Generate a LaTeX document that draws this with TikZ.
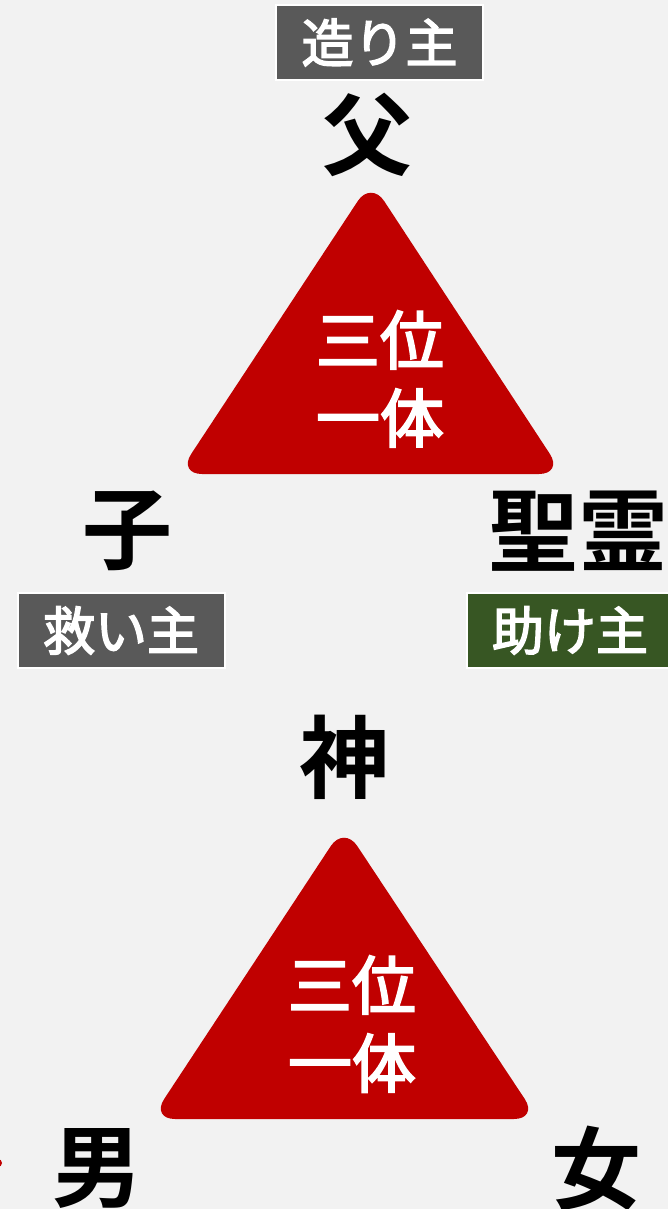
\documentclass[tikz,border=0pt]{standalone}
\usepackage{fontspec}
\newfontfamily\cjk{Noto Sans CJK JP}[BoldFont={Noto Sans CJK JP Bold}]
\newfontfamily\cjkmed{Noto Sans CJK JP}[FakeBold=3]
\definecolor{bg}{HTML}{F2F2F2}
\definecolor{tri}{HTML}{C00000}
\definecolor{greybox}{HTML}{595959}
\definecolor{greenbox}{HTML}{375623}
\tikzset{
  bigchar/.style={inner sep=0pt, font=\cjk\bfseries\fontsize{90}{90}\selectfont, text=black},
  tritext/.style={inner sep=0pt, align=center, text=white, font=\cjkmed\fontsize{64}{78}\selectfont},
  role/.style={inner sep=0pt, minimum width=207pt, minimum height=75pt, draw=white, line width=2pt, text=white, font=\cjkmed\fontsize{52}{52}\selectfont},
  trishape/.style={fill=tri, rounded corners=24pt}
}
\begin{document}
\begin{tikzpicture}[x=1pt,y=-1pt]
\useasboundingbox (0,0) rectangle (668,1209);
\fill[bg] (0,0) rectangle (668,1209);
% top triangle
\fill[trishape] (371,181) -- (563,474) -- (178,474) -- cycle;
\node[tritext] (t1) at (380,379) {三位\\一体};
% bottom triangle
\fill[trishape] (344,826) -- (538,1119) -- (151,1119) -- cycle;
\node[tritext] (t2) at (352,1024) {三位\\一体};
% labels
\node[role, fill=greybox] (maker) at (379.5,42.5) {造り主};
\node[bigchar] (father) at (367,135) {父};
\node[bigchar] (son) at (127,531) {子};
\node[bigchar] (spirit) at (578,531) {聖霊};
\node[role, fill=greybox] (savior) at (121,630.5) {救い主};
\node[role, fill=greenbox] (helper) at (570,630.5) {助け主};
\node[bigchar] (god) at (344,757) {神};
\node[bigchar] (man) at (97,1168) {男};
\node[bigchar] (woman) at (596,1168) {女};
\fill[tri] (-2,1163) circle (4);
\end{tikzpicture}
\end{document}
